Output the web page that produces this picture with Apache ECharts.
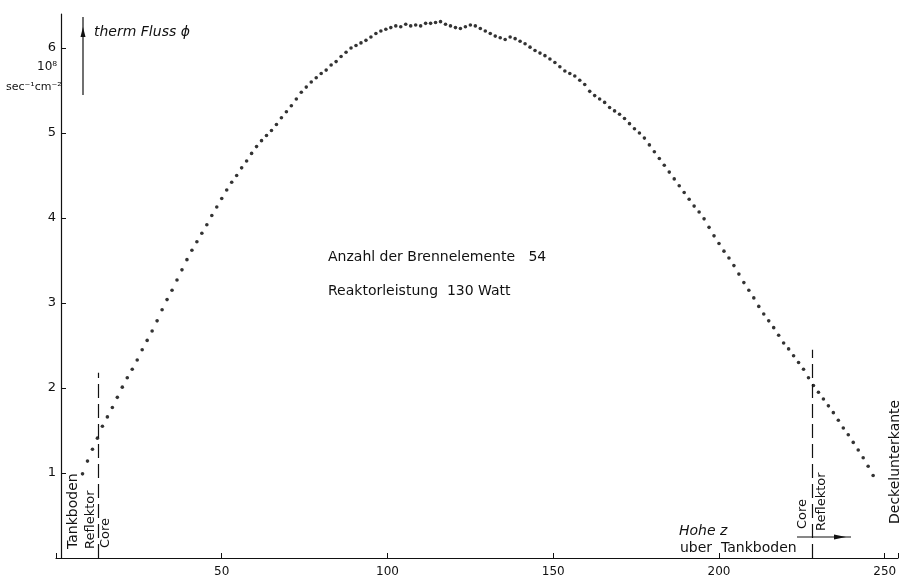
<!DOCTYPE html>
<html>
<head>
<meta charset="utf-8">
<script src="https://cdn.jsdelivr.net/npm/echarts@6/dist/echarts.min.js"></script>
<style>html,body{margin:0;padding:0;background:#fff;}#chart{width:901px;height:580px;}</style>
</head>
<body>
<div id="chart"></div>
<script>
// Height z above tank bottom (cm)
const heights = [8,9.5,11,12.5,14,15.5,17,18.5,20,21.5,23,24.5,26,27.5,29,30.5,32,33.5,35,36.5,38,39.5,41,42.5,44,45.5,47,48.5,50,51.5,53,54.5,56,57.5,59,60.5,62,63.5,65,66.5,68,69.5,71,72.5,74,75.5,77,78.5,80,81.5,83,84.5,86,87.5,89,90.5,92,93.5,95,96.5,98,99.5,101,102.5,104,105.5,107,108.5,110,111.5,113,114.5,116,117.5,119,120.5,122,123.5,125,126.5,128,129.5,131,132.5,134,135.5,137,138.5,140,141.5,143,144.5,146,147.5,149,150.5,152,153.5,155,156.5,158,159.5,161,162.5,164,165.5,167,168.5,170,171.5,173,174.5,176,177.5,179,180.5,182,183.5,185,186.5,188,189.5,191,192.5,194,195.5,197,198.5,200,201.5,203,204.5,206,207.5,209,210.5,212,213.5,215,216.5,218,219.5,221,222.5,224,225.5,227,228.5,230,231.5,233,234.5,236,237.5,239,240.5,242,243.5,245,246.5];
// Thermal flux (10^8 sec^-1 cm^-2)
const flux = [0.99,1.14,1.28,1.41,1.55,1.66,1.77,1.89,2.01,2.12,2.22,2.33,2.45,2.56,2.67,2.79,2.92,3.04,3.15,3.27,3.39,3.51,3.62,3.72,3.82,3.92,4.03,4.13,4.23,4.33,4.42,4.50,4.59,4.67,4.76,4.84,4.91,4.97,5.03,5.10,5.18,5.25,5.32,5.40,5.48,5.54,5.60,5.65,5.70,5.74,5.80,5.84,5.90,5.95,6.00,6.03,6.06,6.09,6.13,6.17,6.20,6.22,6.24,6.26,6.25,6.28,6.26,6.27,6.26,6.29,6.29,6.30,6.31,6.28,6.26,6.24,6.23,6.25,6.27,6.26,6.23,6.20,6.17,6.14,6.12,6.10,6.13,6.11,6.08,6.05,6.01,5.97,5.94,5.91,5.87,5.83,5.78,5.73,5.70,5.67,5.62,5.57,5.49,5.44,5.40,5.36,5.30,5.26,5.22,5.17,5.11,5.05,5.00,4.94,4.86,4.78,4.70,4.62,4.54,4.46,4.38,4.30,4.22,4.14,4.07,3.99,3.89,3.79,3.70,3.61,3.53,3.44,3.34,3.24,3.15,3.06,2.96,2.87,2.79,2.71,2.62,2.53,2.46,2.38,2.30,2.22,2.12,2.03,1.95,1.87,1.79,1.71,1.62,1.53,1.45,1.36,1.27,1.18,1.08,0.97];
// Boundaries core / reflector (cm) and the height of the dashed markers
const boundaries = [12.7, 228];
const boundaryTops = [2.18, 2.45];
const xTicks = [50, 100, 150, 200, 250];
const yTicks = [1, 2, 3, 4, 5, 6];

const FONT = '"DejaVu Sans", "Liberation Sans", sans-serif';
const INK = '#111111';

const points = heights.map((h, i) => [h, flux[i]]);

function vtext(x, y, text, size) {
  return { type: 'text', x: x, y: y, rotation: Math.PI / 2,
    style: { text: text, font: (size || 13) + 'px ' + FONT, fill: INK, textAlign: 'left', textVerticalAlign: 'middle' } };
}
function htext(x, y, text, size, italic) {
  return { type: 'text', x: x, y: y,
    style: { text: text, font: (italic ? 'italic ' : '') + (size || 13) + 'px ' + FONT, fill: INK, textAlign: 'left', textVerticalAlign: 'middle' } };
}

const chart = echarts.init(document.getElementById('chart'), null, { renderer: 'canvas' });
chart.setOption({
  backgroundColor: '#ffffff',
  animation: false,
  grid: { left: 56, right: 3, top: 14, bottom: 22, containLabel: false },
  xAxis: {
    type: 'value', min: 0, max: 254, interval: 50,
    axisLine: { show: true, onZero: false, lineStyle: { color: INK, width: 1.2 } },
    axisTick: { show: true, inside: true, length: 5, lineStyle: { color: INK } },
    axisLabel: { color: INK, fontFamily: FONT, fontSize: 12, margin: 8,
      formatter: v => xTicks.indexOf(v) >= 0 ? String(v) : '' },
    splitLine: { show: false }
  },
  yAxis: {
    type: 'value', min: 0, max: 6.4, interval: 1, offset: -5,
    axisLine: { show: true, onZero: false, lineStyle: { color: INK, width: 1.2 } },
    axisTick: { show: true, inside: true, length: 5, lineStyle: { color: INK } },
    axisLabel: { color: INK, fontFamily: FONT, fontSize: 13, margin: 5, showMaxLabel: false,
      formatter: v => yTicks.indexOf(v) >= 0 ? String(v) : '' },
    splitLine: { show: false }
  },
  series: [{
    type: 'scatter',
    data: points,
    symbol: 'circle',
    symbolSize: 3.6,
    itemStyle: { color: '#000' },
    silent: true,
    markLine: {
      silent: true, symbol: 'none', label: { show: false },
      lineStyle: { color: INK, width: 1.2, type: [14, 6] },
      data: boundaries.map((b, i) => [{ coord: [b, 0] }, { coord: [b, boundaryTops[i]] }])
    }
  }],
  graphic: [
    htext(37, 67, '10⁸', 12),
    htext(6, 87, 'sec⁻¹cm⁻²', 11),
    { type: 'polyline', shape: { points: [[83, 95], [83, 17]] }, style: { stroke: INK, lineWidth: 1.2 } },
    { type: 'polygon', shape: { points: [[80.5, 37], [83, 27], [85.5, 37]] }, style: { fill: INK } },
    htext(94, 32, 'therm Fluss ϕ', 14, true),
    htext(328, 257, 'Anzahl der Brennelemente   54', 14),
    htext(328, 291, 'Reaktorleistung  130 Watt', 14),
    vtext(73, 549, 'Tankboden', 14),
    vtext(91, 549, 'Reflektor', 13),
    vtext(106, 548, 'Core', 13),
    vtext(803, 529, 'Core', 13),
    vtext(822, 531, 'Reflektor', 13),
    vtext(895, 524, 'Deckelunterkante', 14),
    htext(679, 531, 'Hohe z', 14, true),
    htext(680, 548, 'uber  Tankboden', 14),
    { type: 'polyline', shape: { points: [[797, 537], [851, 537]] }, style: { stroke: INK, lineWidth: 1.2 } },
    { type: 'polygon', shape: { points: [[834, 534.5], [846, 537], [834, 539.5]] }, style: { fill: INK } }
  ]
});
</script>
</body>
</html>
